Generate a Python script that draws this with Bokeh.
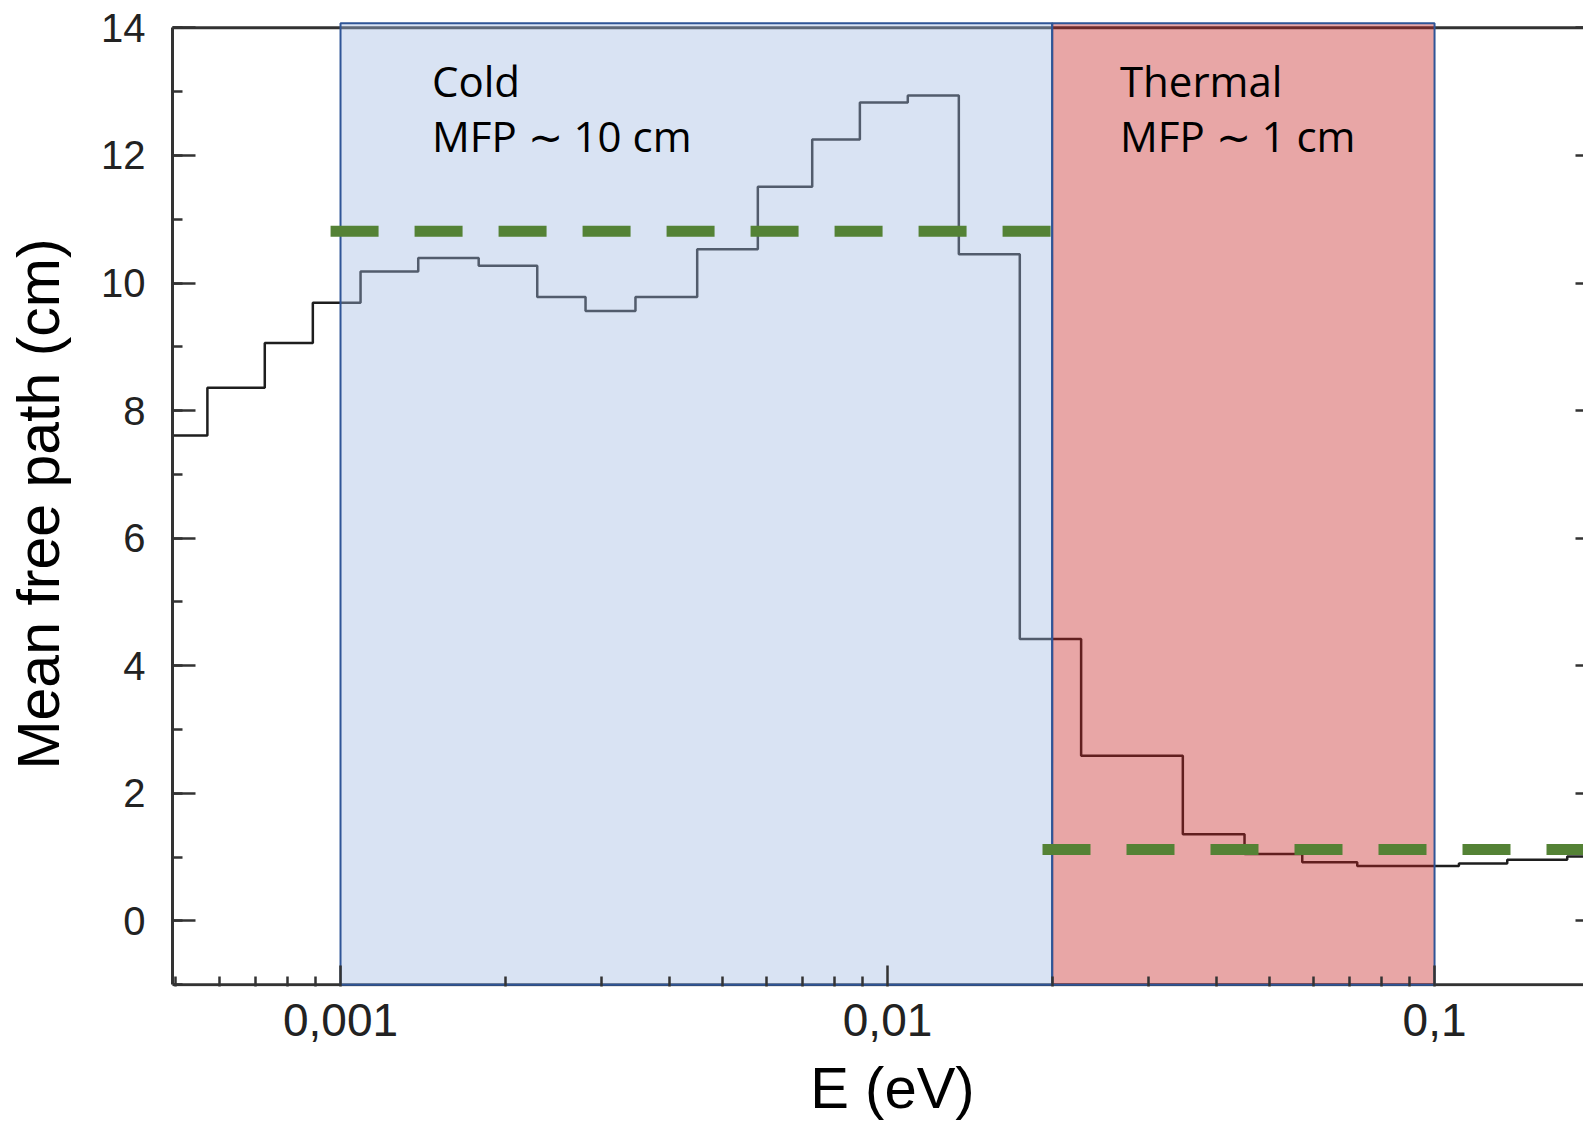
from bokeh.plotting import figure
from bokeh.models import (Range1d, FixedTicker, SingleIntervalTicker,
                          CustomJSTickFormatter, LinearAxis)
from bokeh.core.properties import value
from bokeh.embed import file_html
from bokeh.resources import INLINE

# ---------------- data ----------------
# energy bin edges (eV) of the mean-free-path histogram
energy_edges = [4.93e-4, 5.71e-4, 7.27e-4, 8.90e-4, 1.088e-3, 1.387e-3, 1.789e-3,
                2.289e-3, 2.805e-3, 3.461e-3, 4.488e-3, 5.793e-3, 7.283e-3,
                8.901e-3, 1.089e-2, 1.350e-2, 1.745e-2, 2.259e-2, 3.466e-2,
                4.494e-2, 5.730e-2, 7.222e-2, 0.1108, 0.1358, 0.1748, 0.25]
# mean free path (cm) in each bin (last value repeated for the closing edge)
mfp_cm = [7.61, 8.36, 9.06, 9.69, 10.18, 10.39, 10.27, 9.78, 9.56, 9.78,
          10.53, 11.51, 12.25, 12.83, 12.94, 10.45, 4.42, 2.59, 1.36, 1.05,
          0.92, 0.86, 0.90, 0.96, 1.01, 1.01]

# shaded energy regions
region_names = ["Cold", "Thermal"]
region_lo = [0.001, 0.02]
region_hi = [0.02, 0.1]
region_text = [["Cold", "MFP \u223c 10 cm"], ["Thermal", "MFP \u223c 1 cm"]]

# average mean free path levels (green dashed)
cold_level_x = [0.000959, 0.02]
cold_level = 10.81
thermal_level_x = [0.0192, 0.25]
thermal_level = 1.12

x_major_ticks = [0.001, 0.01, 0.1]

# ---------------- figure ----------------
X0, X1 = 4.93e-4, 0.1872
Y0, Y1 = -1.027, 14.099

p = figure(width=1583, height=1124, x_axis_type="log",
           x_range=Range1d(X0, X1), y_range=Range1d(Y0, Y1),
           output_backend="svg", toolbar_location=None,
           min_border_left=172, min_border_right=0,
           min_border_top=21, min_border_bottom=138,
           background_fill_color="white", border_fill_color="white")
p.outline_line_color = None
p.xgrid.visible = False
p.ygrid.visible = False

AX = "#333333"
LAB = "#222222"

# x axis
xa = p.xaxis[0]
xa.ticker = FixedTicker(ticks=x_major_ticks,
                        minor_ticks=[m * 10.0 ** e for e in (-4, -3, -2, -1) for m in range(2, 10)])
xa.formatter = CustomJSTickFormatter(code="return tick.toString().replace('.', ',');")
xa.axis_line_color = None
xa.major_tick_in = 21
xa.major_tick_out = 0
xa.minor_tick_in = 10
xa.minor_tick_out = 0
xa.major_tick_line_width = 2.5
xa.minor_tick_line_width = 2.5
xa.major_tick_line_color = AX
xa.minor_tick_line_color = AX
xa.major_label_text_font = "Liberation Sans"
xa.major_label_text_font_size = "46px"
xa.major_label_text_color = LAB
xa.major_label_standoff = 17
xa.axis_label = "\u2002E (eV)"
xa.axis_label_text_font = "Liberation Sans"
xa.axis_label_text_font_size = "58px"
xa.axis_label_text_font_style = "normal"
xa.axis_label_text_color = "black"
xa.axis_label_standoff = 16

# y axis
ya = p.yaxis[0]
ya.ticker = SingleIntervalTicker(interval=2, num_minor_ticks=2)
ya.bounds = (-1, 14)
ya.axis_line_width = 3
ya.axis_line_color = AX
ya.major_tick_in = 23
ya.major_tick_out = 0
ya.minor_tick_in = 10
ya.minor_tick_out = 0
ya.major_tick_line_width = 2.5
ya.minor_tick_line_width = 2.5
ya.major_tick_line_color = AX
ya.minor_tick_line_color = AX
ya.major_label_text_font = "Liberation Sans"
ya.major_label_text_font_size = "40px"
ya.major_label_text_color = LAB
ya.major_label_standoff = 27
ya.axis_label = "Mean free path (cm)"
ya.axis_label_text_font = "Liberation Sans"
ya.axis_label_text_font_size = "59px"
ya.axis_label_text_font_style = "normal"
ya.axis_label_text_color = "black"
ya.axis_label_standoff = 26

# right axis stubs (frame continues beyond the picture)
ra = LinearAxis(ticker=SingleIntervalTicker(interval=2, num_minor_ticks=2),
                axis_line_color=None, major_tick_in=8, major_tick_out=0,
                minor_tick_in=0, minor_tick_out=0, major_tick_line_width=2.5,
                major_tick_line_color=AX,
                formatter=CustomJSTickFormatter(code="return '';"),
                major_label_standoff=0, major_label_text_font_size="1px")
p.add_layout(ra, "right")

# histogram line
p.step(x=energy_edges, y=mfp_cm, mode="after", line_color="#1e1e1e", line_width=2.5)

# top and bottom spines (drawn as lines so the shaded boxes overlay them)
p.line(x=[X0, X1], y=[14, 14], line_color=AX, line_width=3)
p.line(x=[X0, X1], y=[-1, -1], line_color=AX, line_width=3)

# shaded regions
p.quad(left=region_lo, right=region_hi, bottom=[-1, -1], top=[14.07, 14.07],
       fill_color=["#A1B9E1", "#C52121"], fill_alpha=0.4,
       line_color="#2F5597", line_width=2)

# dashed average levels
p.line(x=cold_level_x, y=[cold_level] * 2, line_color="#548235", line_width=11,
       line_dash="48 36", line_cap="butt")
p.line(x=thermal_level_x, y=[thermal_level] * 2, line_color="#548235", line_width=11,
       line_dash="48 36", line_cap="butt")

# region annotations
text_x = [0.001470, 0.02660]
for tx, lines in zip(text_x, region_text):
    p.text(x=[tx, tx], y=[13.18, 12.31], text=lines,
           text_font=value("Open Sans"), text_font_size="42px",
           text_baseline="alphabetic", text_align="left", text_color="black")

open("out.html", "w").write(file_html(p, INLINE))
